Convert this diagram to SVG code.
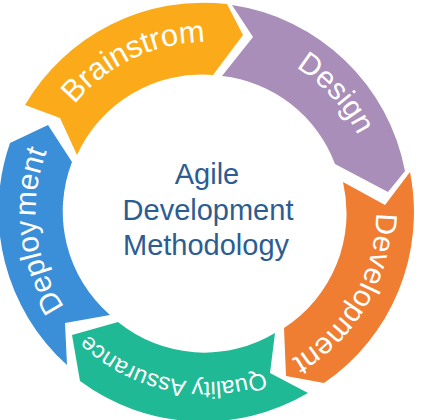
<svg xmlns="http://www.w3.org/2000/svg" width="421" height="420" viewBox="0 0 421 420">
  <style>
    .lbl { font-family: "Liberation Sans", Arial, sans-serif; font-size: 30px; fill: #ffffff; }
    .qa { font-size: 23.5px; }
    .center { font-family: "Liberation Sans", Arial, sans-serif; font-size: 29px; fill: #2c5d91; text-anchor: middle; }
  </style>
  <defs>
    <path id="p-brain" d="M 46.8,271.5 A 170,170 0 0 1 352.5,125.7"/>
    <path id="p-design" d="M 102.5,77.1 A 170,170 0 0 1 331.3,326.9"/>
    <path id="p-dev" d="M 303.5,72.7 A 170,170 0 0 1 134.2,366.1"/>
    <path id="p-qa" d="M 368.6,261.7 A 170,170 0 0 1 37.3,191.3"/>
    <path id="p-deploy" d="M 210.5,382 A 170,170 0 0 1 172.1,45.4"/>
  </defs>
  <rect width="421" height="420" fill="#ffffff"/>
  <g id="connectors"></g>
  <g id="node-brainstrom">
    <path fill="#fbab19" d="M 25,105 A 207,207 0 0 1 227,4 L 243,35 L 213,75 A 137,137 0 0 0 77,155 L 60,118 Z"/>
    <text class="lbl" style="font-size:31px"><textPath href="#p-brain" startOffset="50%" text-anchor="middle">Brainstrom</textPath></text>
  </g>
  <g id="node-design">
    <path fill="#a98eba" d="M 232,5 A 207,207 0 0 1 405,171 L 388,192 L 335,164 A 137,137 0 0 0 222,76 L 253,37 Z"/>
    <text class="lbl"><textPath href="#p-design" startOffset="50%" text-anchor="middle">Design</textPath></text>
  </g>
  <g id="node-development">
    <path fill="#ef7d32" d="M 410,172 A 207,207 0 0 1 324,383 L 286,376 L 284,328 A 137,137 0 0 0 343,182 L 385,205 Z"/>
    <text class="lbl"><textPath href="#p-dev" startOffset="50%" text-anchor="middle">Development</textPath></text>
  </g>
  <g id="node-quality-assurance">
    <path fill="#20b996" d="M 308,393 A 207,207 0 0 1 80,381 L 72,335 L 118,322 A 137,137 0 0 0 275,333 L 270,373 Z"/>
    <text class="lbl qa"><textPath href="#p-qa" startOffset="50%" text-anchor="middle">Quality Assurance</textPath></text>
  </g>
  <g id="node-deployment">
    <path fill="#3b8ed8" d="M 67,365 A 207,207 0 0 1 10,143 L 48,125 L 72,162 A 137,137 0 0 0 110,315 L 65,323 Z"/>
    <text class="lbl"><textPath href="#p-deploy" startOffset="50%" text-anchor="middle">Deploy<tspan dx="3">ment</tspan></textPath></text>
  </g>
  <g id="node-center">
    <text class="center" x="207" y="184">Agile</text>
    <text class="center" x="208" y="220">Development</text>
    <text class="center" x="206" y="255">Methodology</text>
  </g>
</svg>
